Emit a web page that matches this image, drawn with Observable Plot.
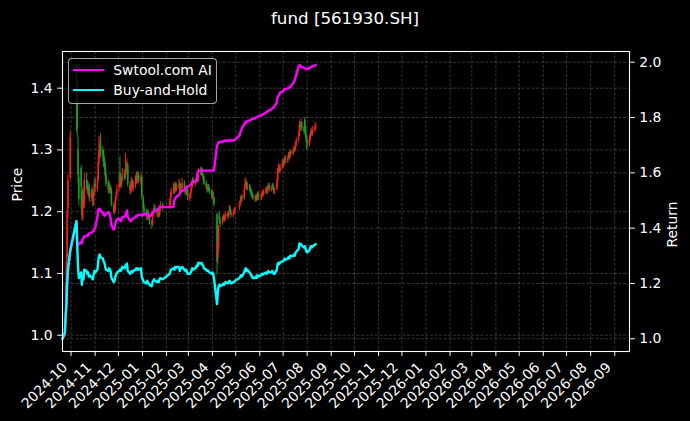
<!DOCTYPE html>
<html>
<head>
<meta charset="utf-8">
<script src="https://cdn.jsdelivr.net/npm/d3@7"></script>
<script src="https://cdn.jsdelivr.net/npm/@observablehq/plot@0.6"></script>
<style>
html, body { margin: 0; padding: 0; background: #000; }
body { width: 690px; height: 421px; position: relative; overflow: hidden; font-family: "DejaVu Sans", sans-serif; color: #fff; }
#title { position: absolute; left: 0; top: 8px; width: 690px; text-align: center; font-size: 16.7px; line-height: 20px; }
#chart { position: absolute; left: 0; top: 40px; }
#legend { position: absolute; left: 68px; top: 58px; width: 147px; height: 44px; border: 1px solid rgba(204,204,204,0.8); border-radius: 4px; background: rgba(0,0,0,0.8); }
#legend .h { position: absolute; left: 3.7px; width: 31px; height: 2.4px; }
#legend .t { position: absolute; left: 44.3px; font-size: 13.9px; line-height: 20px; white-space: nowrap; }
</style>
</head>
<body>
<div id="title">fund [561930.SH]</div>
<div id="chart"></div>
<div id="legend">
  <div class="h" style="top:9.8px;background:#ff00ff"></div>
  <div class="t" style="top:0.7px">Swtool.com AI</div>
  <div class="h" style="top:29.8px;background:#00ffff"></div>
  <div class="t" style="top:20.7px">Buy-and-Hold</div>
</div>
<script>
// ---- trading calendar (SSE) ----
const firstDay = "2024-09-20";
const lastDay = "2025-08-12";
const holidays = ["2024-10-01","2024-10-02","2024-10-03","2024-10-04","2024-10-07",
  "2025-01-01","2025-01-28","2025-01-29","2025-01-30","2025-01-31","2025-02-03","2025-02-04",
  "2025-04-04","2025-05-01","2025-05-02","2025-05-05","2025-06-02"];

// ---- daily OHLC (price, left axis) ----
const open = [
  0.998,1.002,1.030,1.085,1.125,1.205,1.255, // Sep
  1.435,1.400,1.300,1.255,1.270,1.235,1.190,1.228,1.210,1.252,1.245,1.232,1.242,1.222,1.235,1.222,1.212,1.228, // Oct
  1.245,1.238,1.252,1.282,1.298,1.310,1.300,1.292,1.282,1.275,1.260,1.248,1.233,1.242,1.237,1.233,1.210,1.198,1.203,1.220,1.227, // Nov
  1.238,1.262,1.255,1.243,1.252,1.262,1.258,1.270,1.266,1.275,1.242,1.232,1.238,1.248,1.238,1.243,1.248,1.258,1.248,1.258,1.248,1.255, // Dec
  1.222,1.206,1.200,1.190,1.199,1.196,1.191,1.183,1.180,1.196,1.200,1.206,1.201,1.194,1.201,1.194,1.205,1.211, // Jan
  1.208,1.214,1.226,1.233,1.240,1.232,1.244,1.236,1.240,1.246,1.231,1.241,1.238,1.246,1.236,1.230,1.239,1.233, // Feb
  1.220,1.224,1.233,1.241,1.252,1.244,1.249,1.252,1.259,1.250,1.266,1.262,1.267,1.258,1.256,1.246,1.240,1.235,1.241,1.237,1.232, // Mar
  1.224,1.229,1.222,1.195,1.125,1.140,1.195,1.184,1.182,1.189,1.193,1.186,1.192,1.197,1.192,1.200,1.205,1.198,1.194,1.199,1.200, // Apr
  1.206,1.214,1.218,1.224,1.222,1.238,1.246,1.248,1.238,1.242,1.236,1.233,1.228,1.226,1.222,1.219,1.225,1.220,1.229, // May
  1.220,1.226,1.231,1.228,1.232,1.237,1.232,1.238,1.243,1.235,1.238,1.243,1.238,1.231,1.236,1.250,1.266,1.271,1.265,1.272, // Jun
  1.280,1.274,1.281,1.286,1.281,1.286,1.293,1.288,1.297,1.293,1.298,1.303,1.300,1.308,1.316,1.326,1.341,1.336,1.343,1.336,1.348,1.336,1.323, // Jul
  1.314,1.309,1.318,1.326,1.331,1.326,1.332,1.337 // Aug
];
const high = [
  1.004,1.025,1.085,1.130,1.205,1.260,1.330,
  1.437,1.410,1.320,1.265,1.275,1.240,1.232,1.235,1.262,1.262,1.250,1.248,1.245,1.238,1.240,1.228,1.235,1.252,
  1.255,1.258,1.290,1.322,1.315,1.326,1.305,1.298,1.288,1.280,1.265,1.252,1.248,1.246,1.242,1.238,1.214,1.212,1.224,1.232,1.242,
  1.255,1.290,1.262,1.255,1.270,1.268,1.295,1.280,1.285,1.278,1.248,1.250,1.256,1.252,1.250,1.258,1.264,1.265,1.262,1.264,1.262,1.258,
  1.226,1.212,1.204,1.202,1.204,1.200,1.195,1.186,1.198,1.205,1.212,1.210,1.204,1.205,1.204,1.210,1.216,1.214,
  1.220,1.230,1.238,1.246,1.244,1.248,1.248,1.245,1.252,1.250,1.244,1.245,1.254,1.250,1.240,1.242,1.242,1.236,
  1.230,1.236,1.244,1.255,1.256,1.252,1.256,1.262,1.262,1.270,1.272,1.272,1.270,1.262,1.258,1.250,1.244,1.244,1.244,1.240,1.236,
  1.234,1.232,1.225,1.198,1.160,1.178,1.200,1.190,1.192,1.196,1.195,1.196,1.200,1.200,1.202,1.210,1.208,1.202,1.202,1.206,1.208,
  1.216,1.224,1.228,1.226,1.240,1.252,1.255,1.250,1.246,1.244,1.240,1.236,1.232,1.230,1.226,1.228,1.228,1.232,1.232,
  1.230,1.234,1.234,1.236,1.240,1.240,1.242,1.246,1.246,1.241,1.246,1.246,1.240,1.238,1.252,1.270,1.278,1.275,1.276,1.284,
  1.284,1.285,1.290,1.290,1.290,1.296,1.296,1.300,1.300,1.302,1.306,1.306,1.312,1.320,1.330,1.346,1.345,1.350,1.346,1.338,1.353,1.338,1.326,
  1.318,1.322,1.330,1.336,1.334,1.338,1.342,1.344
];
const low = [
  0.996,1.000,1.025,1.080,1.120,1.190,1.250,
  1.330,1.320,1.245,1.210,1.205,1.185,1.185,1.205,1.205,1.235,1.228,1.225,1.220,1.215,1.215,1.208,1.208,1.225,
  1.232,1.232,1.248,1.275,1.288,1.288,1.280,1.272,1.266,1.252,1.240,1.230,1.228,1.230,1.228,1.208,1.196,1.195,1.200,1.216,1.222,
  1.232,1.242,1.238,1.238,1.248,1.250,1.252,1.260,1.262,1.240,1.228,1.228,1.232,1.235,1.232,1.238,1.244,1.245,1.245,1.246,1.242,1.220,
  1.200,1.192,1.186,1.186,1.190,1.186,1.178,1.172,1.176,1.192,1.196,1.196,1.190,1.190,1.190,1.191,1.200,1.200,
  1.204,1.210,1.222,1.228,1.228,1.230,1.232,1.232,1.236,1.228,1.228,1.234,1.236,1.233,1.226,1.226,1.228,1.218,
  1.216,1.220,1.230,1.238,1.240,1.240,1.245,1.250,1.246,1.248,1.258,1.258,1.255,1.250,1.242,1.236,1.230,1.232,1.232,1.228,1.220,
  1.220,1.220,1.208,1.098,1.115,1.135,1.180,1.174,1.178,1.185,1.182,1.184,1.188,1.188,1.188,1.196,1.195,1.190,1.190,1.195,1.196,
  1.202,1.210,1.214,1.215,1.218,1.234,1.240,1.234,1.234,1.232,1.228,1.224,1.220,1.218,1.215,1.216,1.216,1.218,1.218,
  1.218,1.222,1.224,1.225,1.228,1.228,1.228,1.235,1.232,1.232,1.234,1.235,1.228,1.228,1.234,1.246,1.262,1.262,1.262,1.268,
  1.270,1.272,1.278,1.278,1.278,1.284,1.284,1.286,1.290,1.290,1.295,1.296,1.298,1.305,1.312,1.322,1.330,1.332,1.330,1.325,1.326,1.318,1.300,
  1.302,1.305,1.314,1.322,1.322,1.322,1.328,1.332
];
const close = [
  1.000,1.020,1.080,1.120,1.200,1.250,1.320,
  1.420,1.335,1.260,1.220,1.240,1.195,1.225,1.215,1.250,1.245,1.235,1.240,1.225,1.230,1.220,1.215,1.230,1.245,
  1.240,1.250,1.280,1.300,1.305,1.295,1.290,1.280,1.272,1.258,1.245,1.235,1.240,1.235,1.232,1.212,1.200,1.205,1.218,1.225,1.235,
  1.245,1.250,1.245,1.250,1.260,1.255,1.265,1.268,1.272,1.245,1.235,1.240,1.245,1.240,1.245,1.250,1.255,1.250,1.255,1.250,1.255,1.225,
  1.205,1.200,1.192,1.198,1.195,1.190,1.185,1.180,1.195,1.200,1.205,1.200,1.195,1.200,1.195,1.205,1.210,1.205,
  1.215,1.225,1.232,1.238,1.232,1.242,1.235,1.240,1.245,1.232,1.240,1.238,1.245,1.236,1.230,1.238,1.232,1.222,
  1.225,1.232,1.240,1.250,1.245,1.248,1.252,1.258,1.250,1.265,1.262,1.266,1.258,1.255,1.245,1.240,1.236,1.240,1.236,1.232,1.226,
  1.228,1.225,1.212,1.118,1.150,1.172,1.185,1.180,1.188,1.192,1.186,1.192,1.196,1.192,1.198,1.204,1.198,1.195,1.198,1.200,1.204,
  1.212,1.218,1.222,1.220,1.235,1.245,1.248,1.238,1.242,1.235,1.232,1.228,1.225,1.222,1.220,1.224,1.220,1.228,1.222,
  1.226,1.230,1.228,1.232,1.236,1.232,1.238,1.242,1.236,1.238,1.242,1.238,1.232,1.234,1.248,1.265,1.270,1.266,1.272,1.278,
  1.275,1.280,1.285,1.282,1.286,1.292,1.288,1.296,1.294,1.298,1.302,1.300,1.308,1.315,1.325,1.340,1.336,1.342,1.335,1.330,1.335,1.322,1.312,
  1.310,1.318,1.325,1.330,1.326,1.332,1.336,1.338
];

// ---- cumulative returns (right axis) ----
const swtoolAI = [
  1.000,1.020,1.080,1.120,1.200,1.250,1.320,
  1.425,1.335,1.340,1.342,1.350,1.345,1.360,1.365,1.370,1.372,1.375,1.372,1.380,1.382,1.385,1.388,1.390,1.397,
  1.400,1.440,1.465,1.470,1.470,1.462,1.455,1.448,1.445,1.447,1.452,1.458,1.455,1.445,1.435,1.410,1.395,1.400,1.415,1.425,1.432,
  1.434,1.430,1.425,1.432,1.440,1.442,1.446,1.455,1.464,1.440,1.428,1.425,1.430,1.432,1.435,1.440,1.445,1.443,1.448,1.447,1.450,1.445,
  1.448,1.452,1.450,1.452,1.446,1.440,1.442,1.450,1.458,1.460,1.464,1.462,1.466,1.470,1.472,1.476,1.476,1.476,
  1.476,1.476,1.476,1.478,1.500,1.508,1.510,1.515,1.520,1.525,1.530,1.535,1.536,1.538,1.540,1.545,1.548,1.550,
  1.555,1.558,1.560,1.565,1.568,1.570,1.572,1.575,1.600,1.608,1.608,1.608,1.608,1.608,1.608,1.608,1.608,1.608,1.608,1.608,1.608,
  1.608,1.608,1.608,1.700,1.705,1.710,1.712,1.710,1.712,1.715,1.715,1.717,1.717,1.715,1.717,1.717,1.717,1.717,1.717,1.717,1.720,
  1.735,1.745,1.755,1.760,1.775,1.780,1.785,1.782,1.787,1.790,1.790,1.792,1.795,1.795,1.798,1.800,1.800,1.803,1.805,
  1.808,1.810,1.812,1.813,1.818,1.820,1.823,1.825,1.826,1.830,1.833,1.835,1.837,1.840,1.855,1.873,1.878,1.882,1.890,1.893,
  1.895,1.900,1.903,1.902,1.905,1.908,1.907,1.910,1.912,1.925,1.930,1.935,1.945,1.955,1.985,1.990,1.988,1.985,1.982,1.980,1.978,1.976,1.975,
  1.976,1.978,1.980,1.983,1.985,1.986,1.988,1.990
];
const buyHold = [
  1.000,1.020,1.080,1.120,1.200,1.250,1.320,
  1.425,1.335,1.260,1.220,1.240,1.195,1.225,1.215,1.250,1.245,1.235,1.240,1.225,1.230,1.220,1.215,1.230,1.245,
  1.240,1.250,1.280,1.300,1.305,1.295,1.290,1.280,1.275,1.260,1.250,1.245,1.255,1.250,1.245,1.220,1.205,1.210,1.225,1.230,1.240,
  1.245,1.250,1.245,1.250,1.260,1.255,1.265,1.268,1.272,1.245,1.235,1.240,1.245,1.240,1.245,1.250,1.255,1.250,1.255,1.250,1.255,1.225,
  1.210,1.205,1.200,1.210,1.205,1.200,1.195,1.190,1.205,1.210,1.215,1.210,1.205,1.210,1.205,1.215,1.220,1.215,
  1.235,1.245,1.250,1.255,1.250,1.260,1.255,1.260,1.260,1.245,1.255,1.255,1.260,1.250,1.245,1.250,1.245,1.235,
  1.235,1.240,1.245,1.255,1.250,1.255,1.260,1.265,1.262,1.275,1.272,1.275,1.268,1.265,1.255,1.250,1.245,1.248,1.245,1.240,1.235,
  1.240,1.235,1.220,1.125,1.170,1.190,1.195,1.190,1.195,1.200,1.195,1.200,1.205,1.200,1.205,1.210,1.205,1.200,1.205,1.205,1.210,
  1.220,1.225,1.230,1.225,1.240,1.250,1.255,1.245,1.250,1.240,1.235,1.230,1.225,1.220,1.220,1.225,1.220,1.230,1.225,
  1.230,1.235,1.232,1.235,1.240,1.235,1.240,1.245,1.240,1.240,1.245,1.240,1.235,1.235,1.250,1.270,1.275,1.270,1.275,1.280,
  1.280,1.285,1.290,1.285,1.290,1.295,1.290,1.300,1.298,1.300,1.305,1.300,1.310,1.315,1.325,1.345,1.340,1.343,1.338,1.330,1.335,1.325,1.315,
  1.313,1.320,1.330,1.335,1.330,1.335,1.340,1.342
];

// ---- axes ----
const leftTicks = [1.0, 1.1, 1.2, 1.3, 1.4];
const rightTicks = [1.0, 1.2, 1.4, 1.6, 1.8, 2.0];
const xTickLabels = ["2024-10","2024-11","2024-12","2025-01","2025-02","2025-03","2025-04","2025-05","2025-06","2025-07","2025-08","2025-09","2025-10","2025-11","2025-12","2026-01","2026-02","2026-03","2026-04","2026-05","2026-06","2026-07","2026-08","2026-09"];
const xDomain = ["2024-09-20", "2026-09-20"];
const priceDomain = [0.9736, 1.4594];
const returnDomain = [0.9541, 2.0387];

const upColor = "#ff1a1a", downColor = "#1f9a1f";

const fmtDay = d3.utcFormat("%Y-%m-%d");
const dates = d3.utcDay.range(new Date(firstDay), d3.utcDay.offset(new Date(lastDay), 1))
  .filter(d => d.getUTCDay() % 6 !== 0 && !holidays.includes(fmtDay(d)));

const rows = dates.map((date, i) => ({date, open: open[i], high: high[i], low: low[i], close: close[i], ai: swtoolAI[i], bh: buyHold[i]}));

const [P0, P1] = priceDomain, [R0, R1] = returnDomain;
const toPrice = r => P0 + (r - R0) * (P1 - P0) / (R1 - R0);
const fromPrice = p => R0 + (p - P0) * (R1 - R0) / (P1 - P0);
const parseMonth = d3.utcParse("%Y-%m");
const monthDates = xTickLabels.map(parseMonth);
const candleColor = d => d.close >= d.open ? upColor : downColor;
const gridStyle = {stroke: "#ffffff", strokeOpacity: 0.3, strokeWidth: 0.7, strokeDasharray: "3,1.6"};

const chart = Plot.plot({
  width: 690, height: 381,
  marginLeft: 62, marginRight: 61, marginTop: 11, marginBottom: 70,
  style: {background: "#000", color: "#fff", fontFamily: "DejaVu Sans", fontSize: "13.9px"},
  x: {type: "utc", domain: xDomain.map(d => new Date(d))},
  y: {domain: priceDomain},
  marks: [
    Plot.gridX(monthDates, gridStyle),
    Plot.gridY(leftTicks, gridStyle),
    Plot.gridY(rightTicks.map(toPrice), gridStyle),
    Plot.ruleX(rows, {x: "date", y1: "low", y2: "high", stroke: candleColor, strokeWidth: 1}),
    Plot.ruleX(rows, {x: "date", y1: "open", y2: "close", stroke: candleColor, strokeWidth: 1.6}),
    Plot.line(rows, {x: "date", y: d => toPrice(d.ai), stroke: "#ff00ff", strokeWidth: 2.4}),
    Plot.line(rows, {x: "date", y: d => toPrice(d.bh), stroke: "#00ffff", strokeWidth: 2.4}),
    Plot.frame({stroke: "#fff", strokeWidth: 1.1}),
    Plot.axisY({ticks: leftTicks, tickSize: 4.9, tickPadding: 4.9, tickFormat: d3.format(".1f"), label: null}),
    Plot.axisY({anchor: "right", ticks: rightTicks.map(toPrice), tickSize: 4.9, tickPadding: 4.9, tickFormat: v => fromPrice(v).toFixed(1), label: null}),
    Plot.axisX({ticks: monthDates, tickSize: 4.9, tickFormat: () => "", label: null}),
    Plot.text(xTickLabels, {x: d => parseMonth(d), text: d => d, frameAnchor: "bottom", dx: -9.8, dy: 9.8, rotate: -45, textAnchor: "end", lineAnchor: "top", fill: "#fff"}),
    Plot.text(["Price"], {text: d => d, frameAnchor: "left", dx: -45, rotate: -90, fill: "#fff"}),
    Plot.text(["Return"], {text: d => d, frameAnchor: "right", dx: 43, rotate: -90, fill: "#fff"})
  ]
});
document.getElementById("chart").append(chart);

const n = dates.length;
if ([open, high, low, close, swtoolAI, buyHold].some(a => a.length !== n)) {
  const w = document.createElement("div");
  w.style.cssText = "position:absolute;left:300px;top:200px;color:yellow;font-size:12px";
  w.textContent = "len " + n + " " + [open, high, low, close, swtoolAI, buyHold].map(a => a.length).join(",");
  document.body.append(w);
}
</script>
</body>
</html>
